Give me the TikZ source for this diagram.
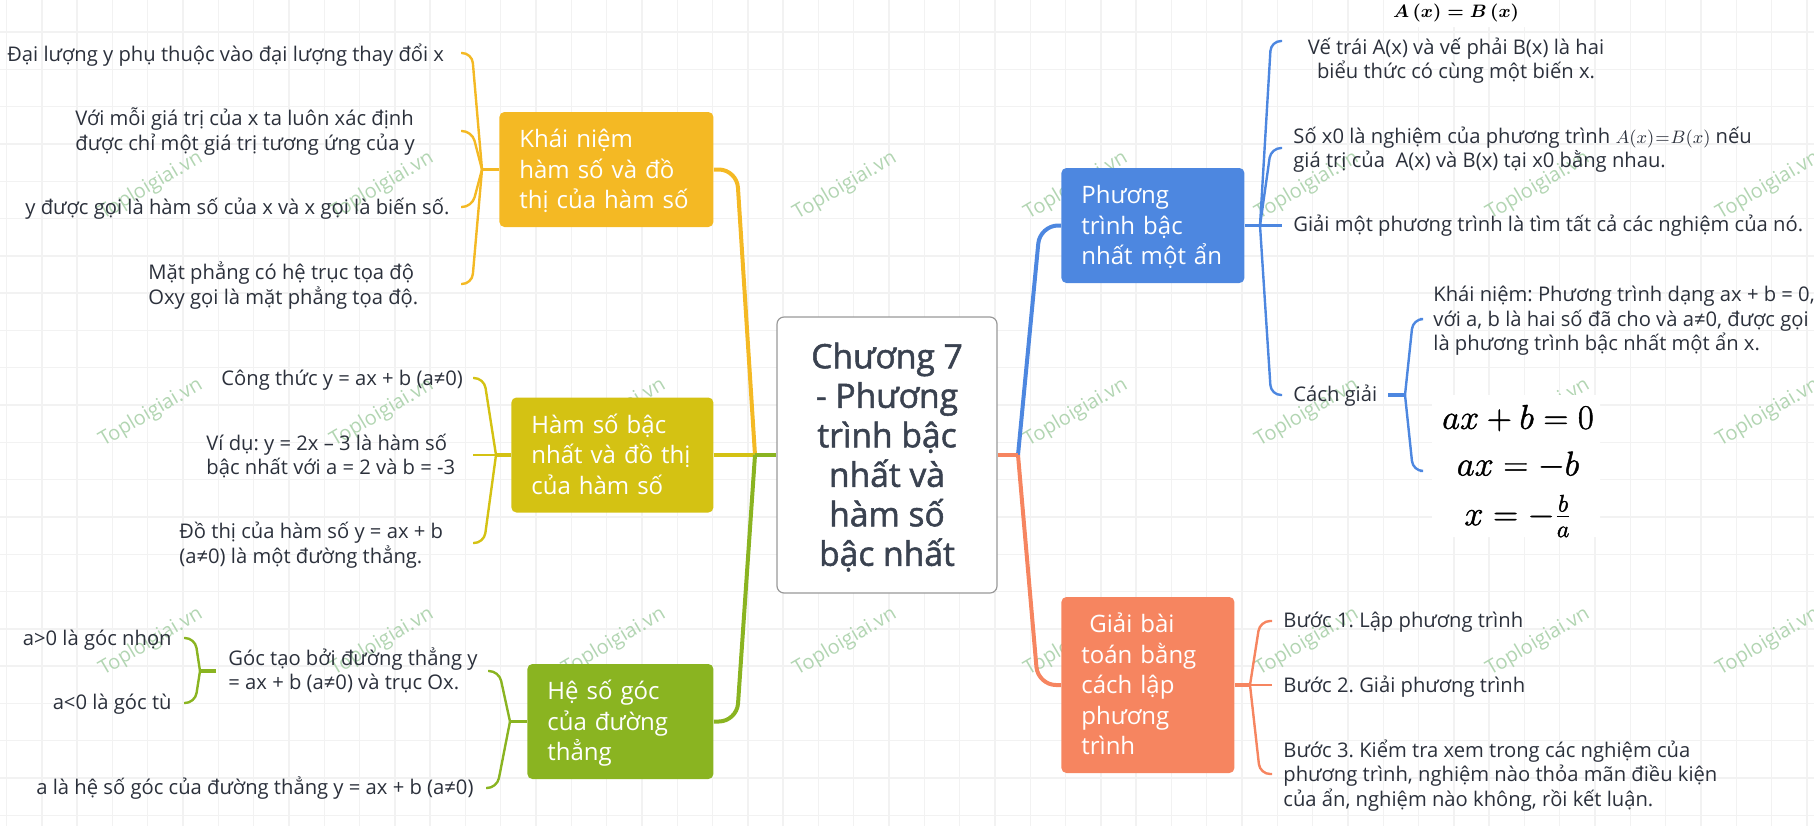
\documentclass[tikz,border=0pt]{standalone}
\usepackage[no-math]{fontspec}
\usepackage{amsmath}
\setmainfont{Open Sans}
\newfontfamily\heavyfont[FakeBold=1.5]{Open Sans}
\newcommand{\tightlines}{\lineskiplimit=-20pt\relax}
\definecolor{colkn}{HTML}{F4B924}
\definecolor{colhs}{HTML}{D4C213}
\definecolor{colhe}{HTML}{8AB421}
\definecolor{colpt}{HTML}{4D87E0}
\definecolor{colgi}{HTML}{F68560}
\definecolor{colink}{HTML}{2B303B}
\definecolor{colhead}{HTML}{3A4250}
\tikzset{
	gridline/.style={line width=0.7pt, color=black!5},
	wmark/.style={rotate=30.5, inner sep=0, text=green!45!black!30, font=\fontsize{10}{12}\selectfont},
	trunk/.style={line width=2pt, rounded corners=9pt, color=#1},
	stub/.style={line width=1.6pt, color=#1},
	twig/.style={line width=1.2pt, rounded corners=5pt, color=#1},
	topicbox/.style={anchor=west, rounded corners=2.5pt, fill=#1, text=white, inner xsep=10pt, inner ysep=0, minimum height=57.5pt, align=left, font=\fontsize{12}{15.25}\selectfont\tightlines,
		execute at begin node=\rule{0pt}{16pt}, execute at end node={\rule[-7.5pt]{0pt}{7.5pt}}},
	lowbox/.style={execute at end node={\rule[-5pt]{0pt}{5pt}}},
	headbox/.style={draw=black!40, line width=0.6pt, fill=white, rounded corners=3.5pt, text width=110pt, minimum height=138pt, inner sep=0, align=flush center, text=colhead, font=\fontsize{16.8}{19.75}\heavyfont\tightlines,
		execute at begin node={\spaceskip=0pt\rule{0pt}{21pt}}, execute at end node={\rule[-9pt]{0pt}{9pt}}},
	leaf/.style={anchor=west, inner sep=0, text width=262pt, align=flush left, text=colink, font=\fontsize{10.1}{12.2}\selectfont\frenchspacing\tightlines,
		execute at begin node={\spaceskip=0pt\rule{0pt}{12pt}}, execute at end node={\rule[-5.4pt]{0pt}{5.4pt}}},
	eqn/.style={inner sep=0, font=\fontsize{17.28}{20}\selectfont,
		execute at begin node={\special{pdf:code 2 Tr 0.22 w}}, execute at end node={\special{pdf:code 0 Tr}}}
}
\begin{document}
\begin{tikzpicture}[x=0.5pt, y=-0.5pt]
	\useasboundingbox (0,0) rectangle (1814,826);
	\foreach \i in {0,...,51} \draw[gridline] ({6.5+35.3*\i},0) -- ({6.5+35.3*\i},826);
	\foreach \j in {0,...,21} \draw[gridline] (0,{32+37.3*\j}) -- (1814,{32+37.3*\j});
	\foreach \x in {151,382,614,845,1076,1307,1538,1768}
		\foreach \y in {186,413,642}
			\node[wmark] (wm\x\y) at (\x,\y) {Toploigiai.vn};
	\fill[white] (1385,0) rectangle (1530,27) (1432,395) rectangle (1600,537);

	\node[headbox] (chuong) at (887,455) {Chương 7\\- Phương\\trình bậc\\nhất và\\hàm số\\bậc nhất};

	\node[topicbox=colkn, text width=87pt] (kn) at (499,169.5) {Khái~niệm\\hàm~số~và~đồ\\thị~của~hàm~số};
	\node[topicbox=colhs, text width=81pt] (hs) at (511,455) {Hàm~số~bậc\\nhất~và~đồ~thị\\của~hàm~số};
	\node[topicbox=colhe, lowbox, text width=73pt] (he) at (527,721.5) {Hệ~số~góc\\của~đường\\thẳng};
	\node[topicbox=colpt, text width=71.5pt] (pt) at (1061,225.5) {Phương\\trình~bậc\\nhất~một~ẩn};
	\node[topicbox=colgi, lowbox, text width=66.5pt, minimum height=88pt] (gi) at (1061,685) {\ Giải~bài\\toán~bằng\\cách~lập\\phương\\trình};

	\node[leaf] (kna) at (7,55) {Đại lượng y phụ thuộc vào đại lượng thay đổi x};
	\node[leaf] (knb) at (75,131.5) {Với mỗi giá trị của x ta luôn xác định\\được chỉ một giá trị tương ứng của y};
	\node[leaf] (knc) at (25,208) {y được gọi là hàm số của x và x gọi là biến số.};
	\node[leaf] (knd) at (148,285.5) {Mặt phẳng có hệ trục tọa độ\\Oxy gọi là mặt phẳng tọa độ.};

	\node[leaf] (hsa) at (221,379) {Công thức y = ax + b (a≠0)};
	\node[leaf] (hsb) at (206,456) {Ví dụ: y = 2x – 3 là hàm số\\bậc nhất với a = 2 và b = -3};
	\node[leaf] (hsc) at (179,544.5) {Đồ thị của hàm số y = ax + b\\(a≠0) là một đường thẳng.};

	\node[leaf] (hea) at (228,671) {Góc tạo bởi đường thẳng y\\= ax + b (a≠0) và trục Ox.};
	\node[leaf] (heb) at (36,788) {a là hệ số góc của đường thẳng y = ax + b (a≠0)};
	\node[leaf, anchor=east, align=flush right] (hec) at (172,639) {a>0 là góc nhọn};
	\node[leaf, anchor=east, align=flush right] (hed) at (172,703) {a<0 là góc tù};

	\node[leaf, align=flush center, anchor=center] (pta) at (1456,60) {Vế trái A(x) và vế phải B(x) là hai\\biểu thức có cùng một biến x.};
	\node[leaf] (ptb) at (1293,149) {Số x0 là nghiệm của phương trình {\fontsize{9}{12}\selectfont$\thickmuskip=1mu A(x)=B(x)$} nếu\\giá trị của\ \ A(x) và B(x) tại x0 bằng nhau.};
	\node[leaf] (ptc) at (1293,225) {Giải một phương trình là tìm tất cả các nghiệm của nó.};
	\node[leaf] (ptd) at (1293,395) {Cách giải};
	\node[leaf] (pte) at (1433,319.5) {Khái niệm: Phương trình dạng ax + b = 0,\\với a, b là hai số đã cho và a≠0, được gọi\\là phương trình bậc nhất một ẩn x.};

	\node[leaf] (gia) at (1283,621) {Bước 1. Lập phương trình};
	\node[leaf] (gib) at (1283,686) {Bước 2. Giải phương trình};
	\node[leaf] (gic) at (1283,775) {Bước 3. Kiểm tra xem trong các nghiệm của\\phương trình, nghiệm nào thỏa mãn điều kiện\\của ẩn, nghiệm nào không, rồi kết luận.};

	\node[inner sep=0, font=\fontsize{9}{12}\selectfont\boldmath] (eqtop) at (1456,13) {$A\,(x)=B\,(x)$};
	\node[eqn] (eqa) at (1518,418) {$ax+b=0$};
	\node[eqn] (eqb) at (1518,465) {$ax=-b$};
	\node[eqn] (eqc) at (1518,516) {$x=-\frac{b}{a}$};

	\coordinate (jleft) at (755,455);
	\coordinate (jright) at (1018,455);
	\coordinate (jkn) at (482,169.5);
	\coordinate (jhs) at (496,455);
	\coordinate (jhe) at (510,721.5);
	\coordinate (jgoc) at (200,671);
	\coordinate (jpt) at (1260,225.5);
	\coordinate (jcach) at (1405,395);
	\coordinate (jgi) at (1250,685);

	\coordinate (ekna) at (461,53);
	\coordinate (eknb) at (461,131);
	\coordinate (eknc) at (461,207);
	\coordinate (eknd) at (461,284);
	\coordinate (ehsa) at (473,378);
	\coordinate (ehsb) at (473,455);
	\coordinate (ehsc) at (473,543);
	\coordinate (ehea) at (488,671);
	\coordinate (eheb) at (486,788);
	\coordinate (egoca) at (184,638);
	\coordinate (egocb) at (184,703);
	\coordinate (egoc) at (216,671);
	\coordinate (epta) at (1282,41);
	\coordinate (eptb) at (1282,148);
	\coordinate (eptc) at (1282,225.5);
	\coordinate (eptd) at (1282,395);
	\coordinate (ecach) at (1388,395);
	\coordinate (ecacha) at (1420,319);
	\coordinate (ecachb) at (1420,471);
	\coordinate (egia) at (1272,621);
	\coordinate (egib) at (1272,685);
	\coordinate (egic) at (1272,774);

	\draw[trunk=colkn] (kn.east) -- ([xshift=11.5pt]kn.east) -- (jleft);
	\draw[stub=colhs] (hs.east) -- (jleft);
	\draw[trunk=colhe] (he.east) -- ([xshift=11.5pt]he.east) -- (jleft);
	\draw[stub=colhe] (chuong.west) -- (jleft);
	\draw[trunk=colpt] (pt.west) -- ([xshift=-10.5pt]pt.west) -- (jright);
	\draw[trunk=colgi] (gi.west) -- ([xshift=-11.5pt]gi.west) -- (jright);
	\draw[stub=colgi] (chuong.east) -- (jright);

	\draw[stub=colkn] (kn.west) -- (jkn);
	\foreach \e in {ekna,eknb,eknc,eknd} \draw[twig=colkn] (jkn) -- ([xshift=5.5pt]\e) -- (\e);
	\draw[stub=colhs] (hs.west) -- (jhs);
	\foreach \e in {ehsa,ehsb,ehsc} \draw[twig=colhs] (jhs) -- ([xshift=5.5pt]\e) -- (\e);
	\draw[stub=colhe] (he.west) -- (jhe);
	\foreach \e in {ehea,eheb} \draw[twig=colhe] (jhe) -- ([xshift=5.5pt]\e) -- (\e);
	\draw[stub=colhe] (egoc) -- (jgoc);
	\foreach \e in {egoca,egocb} \draw[twig=colhe] (jgoc) -- ([xshift=5.5pt]\e) -- (\e);
	\draw[stub=colpt] (pt.east) -- (jpt);
	\foreach \e in {epta,eptb,eptc,eptd} \draw[twig=colpt] (jpt) -- ([xshift=-5.5pt]\e) -- (\e);
	\draw[stub=colpt] (ecach) -- (jcach);
	\foreach \e in {ecacha,ecachb} \draw[twig=colpt] (jcach) -- ([xshift=-3.5pt]\e) -- (\e);
	\draw[stub=colgi] (gi.east) -- (jgi);
	\foreach \e in {egia,egib,egic} \draw[twig=colgi] (jgi) -- ([xshift=-6pt]\e) -- (\e);
\end{tikzpicture}
\end{document}
